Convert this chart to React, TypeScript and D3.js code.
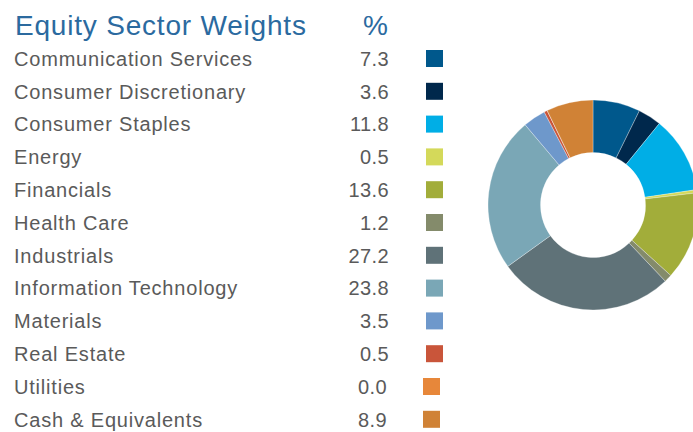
import React from "react";
import * as d3 from "d3";

const categories = [
  "Communication Services",
  "Consumer Discretionary",
  "Consumer Staples",
  "Energy",
  "Financials",
  "Health Care",
  "Industrials",
  "Information Technology",
  "Materials",
  "Real Estate",
  "Utilities",
  "Cash & Equivalents",
];
// values printed in the table
const values = [7.3, 3.6, 11.8, 0.5, 13.6, 1.2, 27.2, 23.8, 3.5, 0.5, 0.0, 8.9];
// slice sizes (the cash slice is drawn smaller than 8.9)
const sliceValues = [7.3, 3.6, 11.8, 0.5, 13.6, 1.2, 27.2, 23.8, 3.5, 0.5, 0.0, 7.2];
const colors = [
  "#00588c",
  "#00284c",
  "#00aee6",
  "#d4d95a",
  "#a2ad3a",
  "#848b6b",
  "#5f7278",
  "#7aa7b6",
  "#6e98cb",
  "#c9553a",
  "#e7873a",
  "#d08236",
];
const title = "Equity Sector Weights";
const valueHeader = "%";

const W = 693;
const H = 432;
const FONT = "'Liberation Sans', Arial, Helvetica, sans-serif";

export default function App() {
  const rows = d3.range(categories.length);
  const y = d3
    .scaleBand<number>()
    .domain(rows)
    .range([42.1, 42.1 + 32.8 * categories.length])
    .paddingInner(0);

  const pie = d3
    .pie<number>()
    .sort(null)
    .value((d) => d)
    .startAngle(0)
    .endAngle(2 * Math.PI);
  const arcs = pie(sliceValues);
  const arc = d3.arc<d3.PieArcDatum<number>>().innerRadius(52.5).outerRadius(105);

  const cx = 593;
  const cy = 205;

  return (
    <svg
      width={W}
      height={H}
      style={{ position: "absolute", left: 0, top: 0, background: "#fff" }}
      fontFamily={FONT}
    >
      <text x={15} y={35} fontSize={28} fill="#2b6a9f" letterSpacing={0.8}>
        {title}
      </text>
      <text x={388} y={35} fontSize={28} fill="#2b6a9f" textAnchor="end">
        {valueHeader}
      </text>
      {rows.map((i) => {
        const c = (y(i) as number) + y.bandwidth() / 2;
        const shift = i >= 10 ? -3 : 0;
        return (
          <g key={i}>
            <text x={14} y={c + 7.3} fontSize={20} fill="#5a5a5a" letterSpacing={0.8}>
              {categories[i]}
            </text>
            <text
              x={389 + (i >= 10 ? -2 : 0)}
              y={c + 7.3}
              fontSize={20}
              fill="#5a5a5a"
              textAnchor="end"
              letterSpacing={0.4}
            >
              {values[i].toFixed(1)}
            </text>
            <rect x={426 + shift} y={c - 8.5} width={17} height={17} fill={colors[i]} />
          </g>
        );
      })}
      <g transform={`translate(${cx},${cy})`}>
        {arcs.map((a, i) => (
          <path key={i} d={arc(a) || ""} fill={colors[i]} stroke="#fff" strokeWidth={0.3} />
        ))}
      </g>
    </svg>
  );
}
